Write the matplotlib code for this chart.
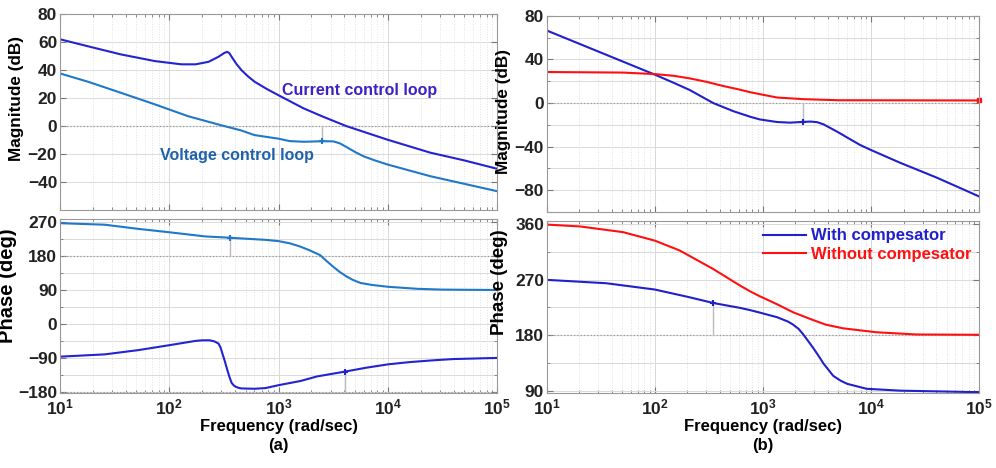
import matplotlib.pyplot as plt
from matplotlib.ticker import LogLocator, NullFormatter, MultipleLocator

plt.rcParams['font.family'] = ['Liberation Sans', 'DejaVu Sans']
plt.rcParams['font.weight'] = 'bold'
plt.rcParams['mathtext.fontset'] = 'custom'
plt.rcParams['mathtext.rm'] = 'Liberation Sans:bold'
plt.rcParams['mathtext.bf'] = 'Liberation Sans:bold'
plt.rcParams['mathtext.it'] = 'Liberation Sans:bold'

# ---- (a) current / voltage control loops ----
cur_mag_w = [10, 18, 36, 74, 129, 174, 229, 282, 320, 339, 355, 372, 410, 457, 525, 603, 780,
             1000, 1700, 2570, 4170, 10000, 24500, 50000, 100000]
cur_mag = [62, 57, 51.2, 46.4, 44.1, 44.1, 45.9, 49.5, 52.3, 53, 52, 49.5, 44.5, 40, 35.5, 31.7, 26.5,
           22, 12.6, 6.6, 0, -9.8, -19, -24.5, -30.5]
volt_mag_w = [10, 18, 36, 74, 148, 295, 450, 600, 1000, 1260, 1700, 2510, 3160, 3630, 4170, 5010,
              6000, 7600, 10000, 24500, 100000]
volt_mag = [37.6, 31.7, 23.8, 15.5, 7.1, 0.7, -3, -6.4, -9, -10.7, -11.2, -10.8, -10.9, -12.3, -14.9, -18.5,
            -21.6, -24.5, -27.5, -35.8, -46.5]

cur_ph_w = [10, 25.7, 52, 100, 174, 200, 234, 257, 282, 295, 309, 324, 339, 355, 372, 390, 407, 430, 457,
            603, 759, 1000, 1585, 2240, 4070, 6300, 10000, 15850, 26900, 39800, 100000]
cur_ph = [-85.7, -79.6, -68.4, -55.4, -44, -42.5, -42.4, -45, -51, -62, -81, -100, -120, -139, -155, -162, -165.5,
          -168, -169.6, -170.5, -168.7, -161, -150, -138, -125, -115, -106, -100, -95, -92, -89]
volt_ph_w = [10, 25.7, 52, 100, 214, 363, 537, 759, 1000, 1260, 1550, 1900, 2400, 2750, 3160, 3630,
             4170, 4790, 5620, 7080, 10000, 18600, 31600, 100000]
volt_ph = [267, 263, 252, 243, 232, 228.5, 225.5, 223, 219.6, 214, 206, 196, 182.6, 167, 152, 138,
           126.5, 117, 109, 104, 99, 93.6, 91.5, 90.5]

# ---- (b) with / without compensator ----
with_mag_w = [10, 100, 150, 209, 270, 347, 537, 759, 933, 1350, 1780, 2340, 2750, 3160, 3630, 4170,
              5010, 6460, 7940, 10000, 18600, 40700, 100000]
with_mag = [66.6, 26.1, 18.5, 12.1, 6, 0, -7.6, -12.5, -15, -17.4, -18, -17.3, -17, -17.5, -19.5, -22.7,
            -27, -33.4, -38.5, -43.1, -54.8, -68.5, -85.7]
wo_mag_w = [10, 50, 100, 150, 209, 300, 427, 600, 759, 933, 1350, 2340, 5000, 100000]
wo_mag = [28.5, 28, 26.6, 25, 22.7, 19.5, 15.7, 12.5, 10, 8.2, 5.1, 3.6, 2.6, 2.4]

with_ph_w = [10, 35.5, 100, 209, 347, 617, 759, 933, 1350, 1700, 1900, 2140, 2340, 2630, 2950, 3310,
             3630, 4070, 4470, 5250, 6030, 9120, 18600, 100000]
with_ph = [269.5, 264, 253.8, 241.3, 232, 224, 220.5, 216.5, 209, 202, 197, 190, 182, 170, 158, 145,
           134, 123, 114, 106, 101, 93, 90, 87.5]
wo_ph_w = [10, 20.4, 51, 100, 170, 347, 617, 759, 933, 1350, 1900, 2750, 3800, 5500, 11200, 26300, 100000]
wo_ph = [359, 356, 346.7, 333, 317, 287, 260, 251, 243, 230, 217, 206, 197, 191, 184.6, 181, 180.5]

# margin markers (freq, value, reference level)
margins_a_mag = [(2510, -10.8, 0)]
margins_a_ph = [(363, 228.5, 180), (4070, -125, -180)]
margins_b_mag = [(2340, -17.3, 0)]
margins_b_ph = [(347, 232, 180)]

c_cur = '#2323d2'
c_volt = '#1f78c8'
c_with = '#2020cc'
c_wo = '#ff1010'

fig = plt.figure(figsize=(9.96, 4.68), dpi=100)
ax_am = fig.add_axes([0.0602, 0.551, 0.439, 0.419])
ax_ap = fig.add_axes([0.0602, 0.160, 0.439, 0.372])
ax_bm = fig.add_axes([0.549, 0.547, 0.434, 0.419])
ax_bp = fig.add_axes([0.549, 0.160, 0.434, 0.368])


def style(ax, ylim, ticks, minor, xlabels):
    ax.set_xscale('log')
    ax.set_xlim(10, 1e5)
    ax.set_ylim(*ylim)
    ax.set_yticks(ticks)
    ax.yaxis.set_minor_locator(MultipleLocator(minor))
    ax.xaxis.set_major_locator(LogLocator(base=10, numticks=10))
    ax.xaxis.set_minor_locator(LogLocator(base=10, subs=range(2, 10), numticks=50))
    ax.xaxis.set_minor_formatter(NullFormatter())
    ax.xaxis.grid(True, which='major', color='#d8d8d8', linestyle='-', linewidth=0.7)
    ax.xaxis.grid(True, which='minor', color='#e2e2e2', linestyle=':', linewidth=0.7)
    ax.yaxis.grid(True, which='both', color='#dadada', linestyle='-', linewidth=0.7)
    ax.tick_params(which='both', direction='in', top=True, right=True, colors='#777777',
                   labelcolor='#222222', labelsize=12.5)
    ax.tick_params(which='major', length=4)
    ax.tick_params(which='minor', length=2)
    ax.tick_params(axis='y', pad=2)
    for s in ax.spines.values():
        s.set_color('#999999')
    if not xlabels:
        ax.tick_params(axis='x', labelbottom=False)
    ax.set_axisbelow(True)


style(ax_am, (-60, 80), [-40, -20, 0, 20, 40, 60, 80], 20, False)
style(ax_ap, (-182, 278), [-180, -90, 0, 90, 180, 270], 45, True)
style(ax_bm, (-100, 80), [-80, -40, 0, 40, 80], 20, False)
style(ax_bp, (86, 365), [90, 180, 270, 360], 45, True)

# reference lines
ax_am.axhline(0, color='#999999', linestyle=':', linewidth=0.9)
ax_ap.axhline(180, color='#999999', linestyle=':', linewidth=0.9)
ax_ap.axhline(-180, color='#999999', linestyle=':', linewidth=0.9)
ax_bm.axhline(0, color='#999999', linestyle=':', linewidth=0.9)
ax_bp.axhline(180, color='#999999', linestyle=':', linewidth=0.9)

ax_am.plot(cur_mag_w, cur_mag, color=c_cur, linewidth=1.5)
ax_am.plot(volt_mag_w, volt_mag, color=c_volt, linewidth=1.5)
ax_ap.plot(volt_ph_w, volt_ph, color=c_volt, linewidth=1.5)
ax_ap.plot(cur_ph_w, cur_ph, color=c_cur, linewidth=1.5)

ax_bm.plot(with_mag_w, with_mag, color=c_with, linewidth=1.5)
ax_bm.plot(wo_mag_w, wo_mag, color=c_wo, linewidth=1.5)
ax_bm.plot(wo_mag_w[-1], wo_mag[-1], marker='s', markersize=3, color=c_wo, clip_on=False)
ax_bp.plot(with_ph_w, with_ph, color=c_with, linewidth=1.5, label='With compesator')
ax_bp.plot(wo_ph_w, wo_ph, color=c_wo, linewidth=1.5, label='Without compesator')

for ax, margins, col in [(ax_am, margins_a_mag, c_volt), (ax_ap, margins_a_ph, None),
                         (ax_bm, margins_b_mag, c_with), (ax_bp, margins_b_ph, c_with)]:
    for i, (w, v, ref) in enumerate(margins):
        mc = col if col else (c_volt if i == 0 else c_cur)
        ax.plot([w, w], [ref, v], color='#bbbbbb', linewidth=1.0)
        ax.plot(w, v, marker='+', markersize=5, markeredgewidth=1.5, color=mc)

ax_am.text(1080, 25.7, 'Current control loop', color='#3a22c4', fontsize=11.5,
           fontweight='bold', va='center')
ax_am.text(82, -20.7, 'Voltage control loop', color='#1e62aa', fontsize=11.5,
           fontweight='bold', va='center')

ax_am.set_ylabel('Magnitude (dB)', fontsize=12.3, fontweight='bold')
ax_ap.set_ylabel('Phase (deg)', fontsize=14.5, fontweight='bold')
ax_bm.set_ylabel('Magnitude (dB)', fontsize=12.3, fontweight='bold')
ax_bp.set_ylabel('Phase (deg)', fontsize=13.5, fontweight='bold')
ax_am.yaxis.set_label_coords(-0.082, 0.57)
ax_ap.yaxis.set_label_coords(-0.098, 0.615)
ax_bm.yaxis.set_label_coords(-0.082, 0.51)
ax_bp.yaxis.set_label_coords(-0.09, 0.645)

ax_ap.set_xlabel('Frequency (rad/sec)\n(a)', fontsize=12, fontweight='bold', labelpad=1,
                 linespacing=1.35)
ax_bp.set_xlabel('Frequency (rad/sec)\n(b)', fontsize=12, fontweight='bold', labelpad=1,
                 linespacing=1.35)

leg = ax_bp.legend(loc='upper right', frameon=False, fontsize=12, handlelength=2.6,
                   borderaxespad=0.05, labelspacing=0.2, handletextpad=0.3)
for txt, c in zip(leg.get_texts(), [c_with, c_wo]):
    txt.set_color(c)
    txt.set_fontweight('bold')

fig.savefig('out.png', dpi=100)
